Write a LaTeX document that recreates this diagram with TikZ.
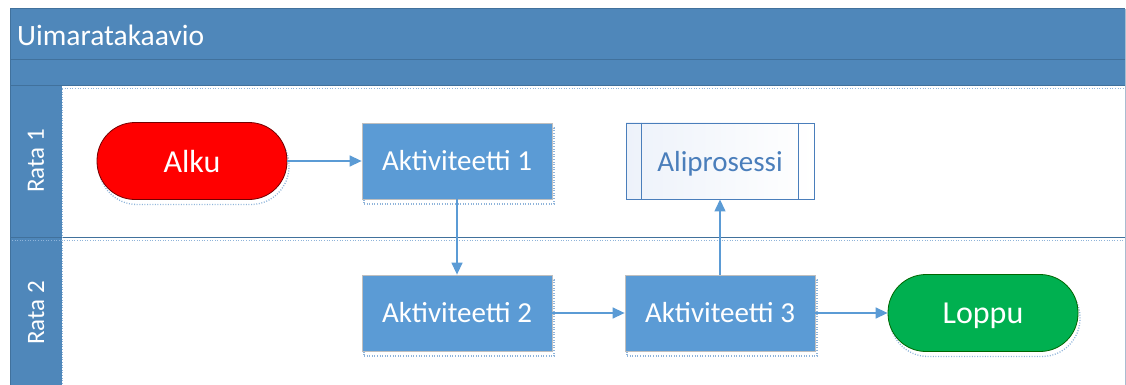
\documentclass[tikz,border=0pt]{standalone}
\usepackage{fontspec}
\setmainfont{Carlito}
\usetikzlibrary{arrows.meta}

\definecolor{bandblue}{HTML}{4F87BA}
\definecolor{bandedge}{HTML}{41719C}
\definecolor{actblue}{HTML}{5B9BD5}
\definecolor{shadowblue}{HTML}{8FB4DA}
\definecolor{subblue}{HTML}{4A7EBB}
\definecolor{subtint}{HTML}{EDF2FA}
\definecolor{startred}{HTML}{FF0000}
\definecolor{endgreen}{HTML}{00B050}
\definecolor{rimgray}{HTML}{BFBFBF}
\definecolor{frameedge}{HTML}{A9BCD0}

\begin{document}
\begin{tikzpicture}[x=1pt,y=-1pt,
  dropshade/.style={preaction={draw=shadowblue, line width=1.3pt,
      dash pattern=on 1pt off 1.6pt,
      transform canvas={xshift=2pt,yshift=-5pt}}},
  activity/.style={dropshade, draw=rimgray, line width=0.8pt, fill=actblue,
      text=white, minimum width=190pt, minimum height=76pt, inner sep=0pt,
      font=\fontsize{29}{31}\selectfont},
  terminal/.style={dropshade, rounded corners=38pt, line width=0.8pt,
      minimum width=190pt, minimum height=77pt, inner sep=0pt,
      text depth=0pt, text=white, font=\fontsize{32}{34}\selectfont},
  subprocess/.style={draw=subblue, line width=0.9pt, left color=subtint,
      right color=white, text=subblue, minimum width=188pt,
      minimum height=76pt, inner sep=0pt, text depth=0pt,
      font=\fontsize{29}{31}\selectfont},
  lanelabel/.style={rotate=90, text=white, inner sep=0pt,
      font=\fontsize{25}{27}\selectfont},
  lanedots/.style={draw=shadowblue, line width=1.2pt,
      dash pattern=on 1pt off 1.6pt},
  flow/.style={draw=actblue, line width=1.4pt,
      -{Triangle[length=12pt,width=11pt]}}
]
\useasboundingbox (0,0) rectangle (1126,385);

% pool header bands and lane header column
\fill[bandblue] (10,9) rectangle (1125,86);
\fill[bandblue] (10,86) rectangle (62,385);
\draw[frameedge, line width=0.8pt] (1125,9) -- (1125,385);
\draw[bandedge, line width=1pt] (10,385) -- (10,9) -- (1125,9);
\draw[bandedge, line width=1pt] (10,60) -- (1125,60);
\draw[bandedge, line width=1pt] (10,86) -- (1125,86);
\node[anchor=west, text=white, inner sep=0pt,
      font=\fontsize{29.5}{31}\selectfont] (title) at (17,35) {Uimaratakaavio};

% lane separators
\draw[bandedge, line width=1pt] (10,237.5) -- (1125,237.5);
\draw[lanedots] (62,88.5) -- (1124,88.5);
\draw[lanedots] (12,240.5) -- (1124,240.5);
\draw[lanedots] (62.5,89) -- (62.5,385);

\node[lanelabel] (lane1) at (36,161) {Rata 1};
\node[lanelabel] (lane2) at (36,313) {Rata 2};

% flow shapes
\node[terminal, fill=startred, draw=black!55!red] (alku) at (192,161) {Alku};
\node[activity] (a1) at (457,161) {Aktiviteetti 1};
\node[subprocess] (sub) at (720,161) {Aliprosessi};
\draw[subblue, line width=0.9pt]
  ([xshift=16pt]sub.north west) -- ([xshift=16pt]sub.south west)
  ([xshift=-16pt]sub.north east) -- ([xshift=-16pt]sub.south east);
\node[activity] (a2) at (457,313) {Aktiviteetti 2};
\node[activity] (a3) at (720,313) {Aktiviteetti 3};
\node[terminal, fill=endgreen, draw=black!60!green] (loppu) at (983,313) {Loppu};

% connectors
\draw[flow] (alku) -- (a1);
\draw[flow] (a1.south) -- (a2.north);
\draw[flow] (a2) -- (a3);
\draw[flow] (a3) -- (loppu);
\draw[flow] (a3.north) -- (sub.south);
\end{tikzpicture}
\end{document}
